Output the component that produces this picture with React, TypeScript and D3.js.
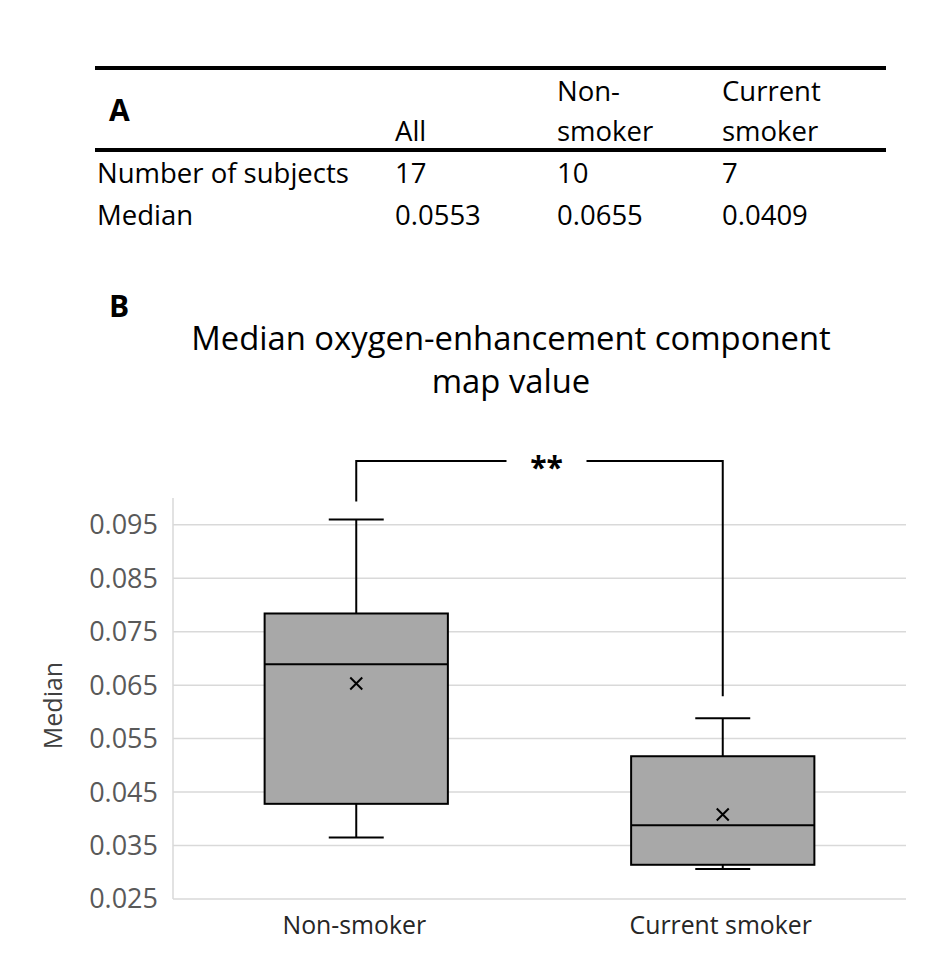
import * as d3 from "d3";

// table (panel A)
const tableHeaders = [["All"], ["Non-", "smoker"], ["Current", "smoker"]];
const tableRowLabels = ["Number of subjects", "Median"];
const tableValues = [
  ["17", "10", "7"],
  ["0.0553", "0.0655", "0.0409"],
];

// box plot (panel B)
const categories = ["Non-smoker", "Current smoker"];
const whiskerLow = [0.0365, 0.0306];
const q1 = [0.0428, 0.0314];
const medians = [0.0689, 0.0388];
const q3 = [0.0784, 0.0517];
const whiskerHigh = [0.096, 0.0588];
const means = [0.0653, 0.0408];
const yTicks = [0.025, 0.035, 0.045, 0.055, 0.065, 0.075, 0.085, 0.095];

const FONT = "'Open Sans', 'Noto Sans', sans-serif";

const App = () => {
  const width = 945;
  const height = 964;
  const plot = { left: 173, right: 906, top: 498, bottom: 899 };

  const x = d3
    .scaleBand<string>()
    .domain(categories)
    .range([plot.left, plot.right])
    .paddingInner(0)
    .paddingOuter(0);

  const y = d3
    .scaleLinear()
    .domain([0.025, 0.1])
    .range([plot.bottom, plot.top]);

  const boxW = x.bandwidth() * 0.5;
  const capW = x.bandwidth() * 0.15;
  const cx = (c: string) => (x(c) as number) + x.bandwidth() / 2;

  // significance bracket
  const bracketY = 461;
  const leftX = cx(categories[0]);
  const rightX = cx(categories[1]);
  const starX = (leftX + rightX) / 2 + 7;
  const gap = 40;

  const colX = [395, 557, 722];

  return (
    <svg
      width={width}
      height={height}
      style={{ position: "absolute", left: 0, top: 0, background: "#fff" }}
      fontFamily={FONT}
    >
      {/* Panel A: table */}
      <line x1={95} x2={886} y1={68} y2={68} stroke="#000" strokeWidth={4} />
      <line x1={95} x2={886} y1={150} y2={150} stroke="#000" strokeWidth={4} />
      <text x={109} y={121} fontSize={30} fontWeight="bold" fill="#000">
        A
      </text>
      {tableHeaders.map((lines, i) =>
        lines.map((l, j) => (
          <text
            key={`h${i}${j}`}
            x={colX[i]}
            y={141 - (lines.length - 1 - j) * 40}
            fontSize={27.5}
            fill="#000"
          >
            {l}
          </text>
        ))
      )}
      {tableRowLabels.map((label, r) => (
        <g key={label}>
          <text x={97} y={183 + r * 42} fontSize={27.5} fill="#000">
            {label}
          </text>
          {tableValues[r].map((v, i) => (
            <text key={i} x={colX[i]} y={183 + r * 42} fontSize={27.5} fill="#000">
              {v}
            </text>
          ))}
        </g>
      ))}

      {/* Panel B */}
      <text x={109} y={317} fontSize={30} fontWeight="bold" fill="#000">
        B
      </text>
      <text x={511} y={350} fontSize={32.8} textAnchor="middle" fill="#000">
        Median oxygen-enhancement component
      </text>
      <text x={511} y={393} fontSize={32.8} textAnchor="middle" fill="#000">
        map value
      </text>

      {/* gridlines */}
      {yTicks.map(t => (
        <line
          key={t}
          x1={plot.left}
          x2={plot.right}
          y1={y(t)}
          y2={y(t)}
          stroke="#d9d9d9"
          strokeWidth={1.5}
        />
      ))}
      <line
        x1={plot.left}
        x2={plot.left}
        y1={plot.top}
        y2={plot.bottom}
        stroke="#d9d9d9"
        strokeWidth={1.5}
      />
      {yTicks.map(t => (
        <text
          key={`l${t}`}
          x={158}
          y={y(t)}
          dy="0.35em"
          fontSize={27}
          textAnchor="end"
          fill="#595959"
        >
          {d3.format(".3f")(t)}
        </text>
      ))}
      <text
        transform={`translate(62, ${(plot.top + plot.bottom) / 2 + 7}) rotate(-90)`}
        fontSize={25}
        textAnchor="middle"
        fill="#404040"
      >
        Median
      </text>

      {/* boxes */}
      {categories.map((c, i) => {
        const m = cx(c);
        const s = 6;
        return (
          <g key={c} stroke="#000" strokeWidth={2}>
            <line x1={m} x2={m} y1={y(whiskerHigh[i])} y2={y(q3[i])} />
            <line x1={m} x2={m} y1={y(q1[i])} y2={y(whiskerLow[i])} />
            <line x1={m - capW / 2} x2={m + capW / 2} y1={y(whiskerHigh[i])} y2={y(whiskerHigh[i])} />
            <line x1={m - capW / 2} x2={m + capW / 2} y1={y(whiskerLow[i])} y2={y(whiskerLow[i])} />
            <rect
              x={m - boxW / 2}
              y={y(q3[i])}
              width={boxW}
              height={y(q1[i]) - y(q3[i])}
              fill="#a8a8a8"
            />
            <line x1={m - boxW / 2} x2={m + boxW / 2} y1={y(medians[i])} y2={y(medians[i])} />
            <path
              d={`M${m - s},${y(means[i]) - s}L${m + s},${y(means[i]) + s}M${m - s},${y(means[i]) + s}L${m + s},${y(means[i]) - s}`}
              strokeWidth={2}
            />
          </g>
        );
      })}
      {categories.map(c => (
        <text key={`c${c}`} x={cx(c) - 2} y={934} fontSize={24.8} textAnchor="middle" fill="#262626">
          {c}
        </text>
      ))}

      {/* significance bracket */}
      <path
        d={`M${leftX},${y(whiskerHigh[0]) - 18}V${bracketY}H${starX - gap}M${starX + gap},${bracketY}H${rightX}V${y(whiskerHigh[1]) - 22}`}
        fill="none"
        stroke="#000"
        strokeWidth={2}
      />
      <text x={starX} y={478} fontSize={30} fontWeight="bold" textAnchor="middle" fill="#000">
        **
      </text>
    </svg>
  );
};

export default App;
